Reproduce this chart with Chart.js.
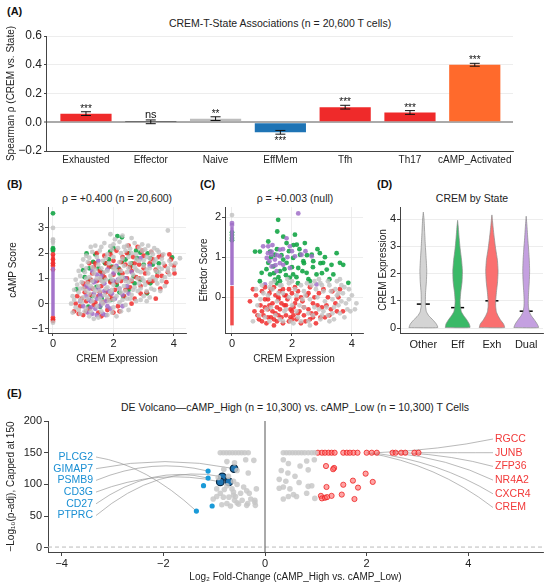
<!DOCTYPE html>
<html><head><meta charset="utf-8">
<script src="https://cdn.jsdelivr.net/npm/chart.js@4.4.1/dist/chart.umd.min.js"></script>
<style>
body{margin:0;background:#fff;width:550px;height:583px;position:relative;overflow:hidden;font-family:"Liberation Sans",Arial,sans-serif;color:#222;}
canvas{position:absolute;}
.lbl{position:absolute;font-weight:bold;font-size:11px;line-height:14px;color:#111;}
.ttl{position:absolute;font-size:10.5px;line-height:14px;color:#222;white-space:nowrap;transform:translateX(-50%);}
</style></head><body>
<div class="lbl" style="left:7px;top:4px">(A)</div>
<div class="lbl" style="left:7px;top:177px">(B)</div>
<div class="lbl" style="left:200px;top:177px">(C)</div>
<div class="lbl" style="left:377px;top:177px">(D)</div>
<div class="lbl" style="left:7px;top:386px">(E)</div>
<div class="ttl" style="left:280px;top:16px">CREM-T-State Associations (n = 20,600 T cells)</div>
<div class="ttl" style="left:117px;top:191px">ρ = +0.400 (n = 20,600)</div>
<div class="ttl" style="left:295px;top:191px">ρ = +0.003 (null)</div>
<div class="ttl" style="left:472px;top:191px">CREM by State</div>
<div class="ttl" style="left:295px;top:400px">DE Volcano—cAMP_High (n = 10,300) vs. cAMP_Low (n = 10,300) T Cells</div>

<canvas id="cA" width="550" height="175" style="left:0;top:0;width:550px;height:175px"></canvas>
<canvas id="cB" width="192" height="195" style="left:0;top:175px;width:192px;height:195px"></canvas>
<canvas id="cC" width="178" height="195" style="left:192px;top:175px;width:178px;height:195px"></canvas>
<canvas id="cD" width="180" height="195" style="left:370px;top:175px;width:180px;height:195px"></canvas>
<canvas id="cE" width="550" height="183" style="left:0;top:400px;width:550px;height:183px"></canvas>
<script>
// ---------------- DATA ----------------
// (A) CREM vs T-state Spearman rho
const stateCategories = ['Exhausted','Effector','Naive','EffMem','Tfh','Th17','cAMP_Activated'];
const stateRho = [0.060, 0.003, 0.025, -0.070, 0.105, 0.068, 0.400];
const stateErr = [0.013, 0.013, 0.013, 0.013, 0.013, 0.013, 0.010];
const stateSig = ['***','ns','**','***','***','***','***'];
const aYTicks = [-0.2, 0.0, 0.2, 0.4, 0.6];

// (B) CREM expression vs cAMP score, by state group
const bGray = [[1.9,2.75],[2.3,2.7],[2.6,2.6],[3.8,2.9],[2.05,2.55],
 [1.4,2.3],[1.7,2.4],[2.0,2.35],[2.2,2.45],[2.45,2.3],[2.7,2.4],[2.95,2.35],[3.15,2.3],[3.35,2.2],
 [1.1,1.9],[1.3,2.05],[1.55,2.1],[1.8,1.95],[1.95,2.15],[2.25,2.0],[2.4,2.1],[2.6,2.0],[2.75,1.95],[2.95,2.1],[3.1,1.85],[3.3,1.95],[3.5,2.05],[3.65,1.95],[4.2,1.8],
 [0.95,1.5],[1.15,1.65],[1.3,1.45],[1.5,1.55],[1.65,1.7],[1.85,1.6],[2.05,1.45],[2.2,1.65],[2.35,1.5],[2.55,1.6],[2.7,1.45],[2.85,1.7],[3.0,1.5],[3.2,1.4],[3.35,1.65],[3.5,1.45],[3.65,1.6],[3.8,1.4],[3.9,1.55],
 [0.9,1.1],[1.05,1.25],[1.2,1.05],[1.35,1.2],[1.55,1.0],[1.7,1.25],[1.9,1.1],[2.1,1.3],[2.3,1.05],[2.45,1.25],[2.65,1.15],[2.8,1.3],[2.95,1.0],[3.15,1.2],[3.3,1.05],[3.5,1.25],[3.7,1.05],[3.85,1.15],
 [0.8,0.75],[1.0,0.6],[1.15,0.8],[1.3,0.9],[1.5,0.7],[1.65,0.85],[1.8,0.65],[2.0,0.75],[2.15,0.9],[2.35,0.7],[2.5,0.85],[2.7,0.65],[2.85,0.8],[3.05,0.75],[3.25,0.6],[3.45,0.8],[3.7,0.7],
 [0.65,0.3],[0.85,0.45],[1.0,0.25],[1.2,0.4],[1.4,0.5],[1.55,0.2],[1.7,0.35],[1.9,0.45],[2.1,0.3],[2.25,0.45],[2.45,0.2],[2.6,0.35],[2.8,0.5],[3.0,0.3],[3.2,0.25],
 [0.6,0.0],[0.75,-0.15],[0.95,0.05],[1.1,-0.2],[1.3,0.1],[1.45,-0.1],[1.65,0.0],[1.85,0.1],[2.0,-0.15],[2.2,0.05],[2.4,-0.05],[2.75,0.1],
 [0.9,-0.4],[1.2,-0.5],[1.5,-0.55],[1.8,-0.45],[2.1,-0.5],[1.35,-0.6],
 [1.25,2.25],[1.6,2.25],[1.9,2.28],[2.15,2.2],[2.35,2.25],[2.55,2.18],[2.85,2.22],[3.05,2.15],[3.25,2.05],[3.45,2.12],
 [1.0,1.75],[1.2,1.82],[1.45,1.85],[1.75,1.8],[2.0,1.85],[2.3,1.78],[2.5,1.85],[2.75,1.75],[3.0,1.72],[3.2,1.8],[3.4,1.75],[3.6,1.78],[3.85,1.7],[4.05,1.6],
 [0.85,1.3],[1.1,1.4],[1.4,1.35],[1.6,1.4],[1.8,1.3],[2.0,1.38],[2.25,1.3],[2.5,1.4],[2.75,1.35],[2.9,1.25],[3.1,1.35],[3.4,1.3],[3.6,1.38],[3.8,1.3],[4.0,1.35],
 [0.75,0.95],[0.95,0.85],[1.1,1.0],[1.25,0.7],[1.45,1.0],[1.6,0.9],[1.75,0.95],[1.95,0.95],[2.2,1.0],[2.4,0.9],[2.6,0.95],[2.8,1.0],[3.0,0.9],[3.2,0.95],[3.4,0.95],[3.6,0.9],
 [0.7,0.55],[0.9,0.6],[1.1,0.5],[1.35,0.6],[1.55,0.5],[1.75,0.6],[1.95,0.55],[2.2,0.6],[2.4,0.5],[2.65,0.55],[2.9,0.6],[3.1,0.5],[3.35,0.55],[3.55,0.5],
 [0.7,0.15],[0.9,0.15],[1.15,0.2],[1.35,0.3],[1.6,0.1],[1.8,0.25],[2.0,0.15],[2.3,0.15],[2.55,0.2],[2.9,0.15],[3.1,0.1],
 [0.85,-0.25],[1.05,-0.3],[1.25,-0.3],[1.6,-0.3],[1.95,-0.35],[2.25,-0.3],[2.5,-0.25],[0.65,-0.35],
 [0,3.0],[0,2.55],[0,2.45],[0,-0.75]];
const bPurple = [[1.0,-0.1],[1.1,0.3],[1.15,-0.35],[1.2,0.6],[1.25,0.1],[1.3,-0.4],[1.35,0.4],[1.4,0.9],[1.4,-0.2],[1.45,0.2],[1.5,0.6],[1.55,-0.1],[1.6,1.1],[1.6,0.3],[1.65,-0.4],[1.7,0.8],[1.75,0.1],[1.8,1.35],[1.85,0.5],[1.9,-0.2],[2.0,0.9],[2.05,0.2],[2.1,1.5],[2.2,0.6],[2.3,-0.1],[2.4,1.0],[2.5,0.4],[2.6,1.25],[0.9,0.1],[1.3,1.3],[2.9,1.8],[3.2,1.5],[1.5,1.7],[1.75,-0.45],
 [1.1,0.7],[1.25,-0.15],[1.35,0.85],[1.45,-0.45],[1.55,0.35],[1.7,0.5],[1.8,-0.1],[1.95,0.4],[2.15,0.95],[2.3,0.35],[1.2,0.15],[1.6,0.0],[2.0,1.2],[1.45,1.15],[2.45,0.7]];
const bRed = [[0.7,-0.3],[0.75,0.0],[0.9,-0.1],[0.95,0.2],[1.0,-0.45],[1.05,0.45],[1.1,0.1],[1.15,0.85],[1.2,-0.2],[1.25,0.35],[1.3,1.2],[1.3,0.6],[1.35,-0.05],[1.4,1.6],[1.45,0.9],[1.5,0.3],[1.5,-0.35],[1.55,1.3],[1.6,0.7],[1.65,0.05],[1.7,1.9],[1.7,1.05],[1.75,0.45],[1.8,-0.25],[1.85,1.45],[1.9,0.85],[1.95,0.2],[2.0,1.7],[2.0,1.15],[2.05,0.55],[2.1,2.1],[2.15,-0.1],[2.2,1.35],[2.25,0.9],[2.3,1.85],[2.35,0.3],[2.4,1.55],[2.45,1.0],[2.5,2.3],[2.55,0.65],[2.6,1.3],[2.65,1.85],[2.7,0.2],[2.75,1.05],[2.8,2.25],[2.85,1.55],[2.9,0.7],[3.0,1.9],[3.05,1.2],[3.1,0.45],[3.2,1.6],[3.25,2.05],[3.3,0.9],[3.4,1.35],[3.5,1.85],[3.55,0.6],[3.6,1.1],[3.7,1.5],[3.8,1.25],[3.9,1.75],[4.02,1.2],[4.0,1.5],[3.4,0.2],[1.2,1.6],[2.0,-0.35],[0.8,0.3],[1.45,2.0],[2.6,0.0],
 [0.85,-0.4],[1.05,0.65],[1.25,0.95],[1.4,0.05],[1.55,0.95],[1.6,-0.5],[1.75,1.6],[1.9,0.35],[2.0,1.45],[2.1,0.85],[2.25,1.65],[2.4,0.55],[2.45,2.0],[2.6,0.9],[2.7,1.6],[2.85,1.0],[2.95,2.1],[3.0,1.4],[3.15,0.85],[3.3,1.75],[3.45,1.1],[3.6,1.9],[3.75,0.85],[1.1,-0.3],[1.35,1.45],[1.9,1.95],[2.3,1.2],[1.55,0.45],[2.2,-0.3],[2.9,0.4],[1.65,1.2],[1.0,0.8],[3.85,1.95],[2.55,1.45],[1.8,0.15],
 [0,1.95],[0,1.75],[0,1.6],[0,1.5],[0,1.35],[0,-0.55],[0,-0.62],[0,-0.68]];
const bGreen = [[2.13,2.68],[2.28,2.63],[1.11,1.99],[1.89,2.06],[2.5,1.99],[2.89,2.02],[3.13,1.99],[3.94,1.83],[1.33,1.66],[1.72,1.6],[2.28,1.66],[2.78,1.8],[3.22,1.8],[1.0,1.33],[1.5,1.4],[1.94,1.47],[2.17,1.4],[2.56,1.47],[1.22,0.94],[1.67,1.0],[2.39,1.0],[2.67,1.07],[2.89,0.94],[0.78,0.57],[1.44,0.67],[2.11,0.74],[2.5,0.54],[3.22,0.81],[1.61,0.21],[1.94,0.15],[1.17,-0.12],[1.56,-0.12],[2.33,0.28],[3.11,0.41],[3.44,1.27],
 [1.2,1.4],[1.4,1.95],[1.6,1.25],[1.85,1.75],[2.0,2.2],[2.2,1.2],[2.4,1.75],[2.6,1.6],[2.75,2.1],[3.0,1.55],[3.3,1.55],[1.9,0.9],[2.2,0.45],[1.3,0.3],[2.7,0.8],[3.5,1.6],[1.05,1.05],
 [0,3.58],[0,2.2],[0,2.15],[0,2.1]];
const bZeroPurple = [-0.48, 1.45];   // CREM = 0 stripe ranges
const bZeroRed = [1.5, 1.95];
const bZeroGray = [2.3, 2.6];

// (C) CREM expression vs effector score
const cGray = [[0.7,-0.6],[0.85,-0.2],[1.0,0.3],[1.1,-0.5],[1.2,0.05],[1.3,-0.25],[1.4,0.4],[1.5,-0.1],[1.6,-0.55],[1.7,0.1],[1.8,-0.3],[1.9,0.35],[2.0,-0.2],[2.1,0.2],[2.2,-0.5],[2.3,0.3],[2.4,-0.25],[2.5,0.35],[2.6,-0.05],[2.7,-0.45],[2.8,0.2],[2.9,-0.3],[3.0,0.3],[3.1,-0.1],[3.2,-0.45],[3.3,0.15],[3.4,-0.25],[3.5,0.05],[3.6,-0.4],[3.7,0.1],[3.8,-0.15],[3.95,-0.35],[4.1,-0.3],[3.55,-0.2],[3.25,-0.6],[2.95,-0.55],[1.35,0.2],[1.65,0.3],[2.45,0.05],[2.75,0.4],[3.05,-0.35],[3.35,-0.05],[3.65,0.3],[0.95,-0.05],[1.25,-0.6],[2.05,-0.65],[2.35,-0.05],[1.85,0.45],[3.9,0.2],[3.5,0.4],[2.15,-0.35],[2.55,-0.6],[3.75,-0.5],[1.55,0.1],
 [0.8,0.2],[1.05,0.1],[1.15,-0.3],[1.3,0.35],[1.45,-0.45],[1.6,0.3],[1.75,-0.35],[1.9,0.0],[2.0,0.4],[2.15,0.05],[2.25,-0.2],[2.4,0.15],[2.55,-0.4],[2.65,0.3],[2.75,-0.25],[2.85,0.0],[2.95,0.35],[3.05,0.15],[3.15,-0.25],[3.25,0.3],[3.35,-0.4],[3.45,0.2],[3.55,0.1],[3.65,-0.1],[3.75,0.25],[3.85,-0.3],[4.0,0.05],[4.15,-0.15],[3.4,-0.55],[3.0,-0.45],[2.6,-0.7],[2.3,-0.6],[1.95,-0.6],[1.7,-0.6],[2.9,0.45],[3.6,0.45],[3.2,0.4],[1.25,0.25],[0.9,-0.45],[3.9,-0.05],
 [0,2.05]];
const cRed = [[0.6,-0.1],[0.75,-0.35],[0.8,0.05],[0.9,-0.55],[0.95,-0.2],[1.0,0.15],[1.05,-0.45],[1.1,-0.05],[1.15,-0.65],[1.2,-0.3],[1.25,0.1],[1.3,-0.5],[1.35,-0.15],[1.4,0.25],[1.45,-0.4],[1.5,-0.6],[1.55,0.0],[1.6,-0.3],[1.65,-0.5],[1.7,0.2],[1.75,-0.2],[1.8,-0.45],[1.85,-0.05],[1.9,-0.6],[1.95,-0.3],[2.0,0.1],[2.05,-0.45],[2.1,-0.15],[2.15,-0.55],[2.2,0.15],[2.25,-0.35],[2.3,-0.65],[2.35,-0.1],[2.4,-0.45],[2.5,0.05],[2.55,-0.3],[2.6,-0.55],[2.7,-0.15],[2.8,-0.4],[2.9,0.1],[3.0,-0.25],[3.1,-0.5],[3.2,0.0],[3.3,-0.3],[3.45,-0.15],[3.6,0.2],[3.7,-0.35],[1.2,-0.05],[1.5,-0.25],[1.8,0.05],[2.0,-0.55],[2.6,0.25],[1.0,-0.35],[1.4,-0.7],[2.8,-0.65],
 [0.7,0.2],[0.85,-0.45],[1.0,-0.6],[1.1,0.25],[1.2,-0.5],[1.3,0.2],[1.35,-0.35],[1.45,0.05],[1.55,-0.45],[1.6,0.15],[1.65,-0.15],[1.7,-0.65],[1.8,-0.2],[1.9,0.2],[1.95,-0.5],[2.05,-0.25],[2.1,0.25],[2.2,-0.4],[2.3,0.0],[2.4,-0.25],[2.45,-0.6],[2.55,0.1],[2.65,-0.4],[2.75,0.0],[2.85,-0.2],[2.95,-0.5],[3.05,0.2],[3.15,-0.2],[3.25,-0.45],[3.35,0.15],[3.5,-0.35],[3.55,0.0],[1.25,-0.2],[1.55,-0.05],[2.15,-0.05],[2.0,-0.35],[1.75,0.05],[1.4,-0.55],[1.1,-0.25],[2.7,-0.5]];
const cPurple = [[2.21,2.09],[1.04,1.27],[1.21,1.27],[1.32,1.06],[1.43,0.94],[1.6,1.02],[1.82,1.47],[1.93,1.27],[2.1,1.02],[2.32,1.06],[2.66,1.02],[1.32,0.77],[1.49,0.65],[1.93,0.73],[1.1,0.32],[2.82,0.32],[1.6,1.19],[1.32,1.14],[1.71,0.81],[1.16,0.98],
 [1.2,1.1],[1.35,1.3],[1.5,1.05],[1.45,0.8],[1.7,1.2],[1.85,1.0],[1.25,0.9],[2.0,1.15],[1.6,0.85],[2.45,1.15],
 [0,1.85],[0,1.8]];
const cGreen = [[1.54,1.93],[1.51,1.64],[2.1,1.56],[0.77,1.14],[0.93,1.14],[1.27,1.14],[1.82,1.35],[2.16,1.31],[2.43,1.35],[2.66,1.06],[2.93,1.1],[3.49,1.1],[3.6,0.86],[3.71,0.81],[3.88,0.36],[0.99,0.61],[1.27,0.57],[1.6,0.65],[1.93,0.49],[2.21,0.73],[2.49,0.61],[2.82,0.57],[3.16,0.69],[3.32,0.81],[1.21,0.86],[1.71,0.94],[2.04,0.98],[2.38,0.9],[2.71,0.9],[1.43,0.44],[1.6,0.4],[0.93,0.4],[1.82,0.86],[1.43,1.06],[3.04,0.86],[3.38,0.57],[2.6,0.4],[1.21,1.39],[1.71,1.51],[2.27,1.06],[2.04,0.57],[1.38,0.77],
 [1.3,1.0],[1.4,0.6],[1.5,1.2],[1.55,0.5],[1.65,1.05],[1.75,0.7],[1.9,1.15],[2.0,0.75],[2.15,0.5],[2.25,1.2],[2.35,0.65],[2.5,1.05],[2.55,0.45],[2.7,0.75],[2.85,1.2],[3.0,0.6],[3.1,1.0],[3.25,0.45],[2.05,1.3],[1.8,0.55],[2.4,0.85],[1.15,0.7],[2.95,0.85],[1.5,0.35],[2.2,0.35],
 [0,1.62],[0,1.55],[0,1.48],[0,1.42]];
const cZeroPurple = [0.3, 1.75];
const cZeroRed = [-0.7, 0.28];

// (D) CREM expression violins (density half-widths, in category units)
const dStates = ['Other','Eff','Exh','Dual'];
const dMeans = [0.88, 0.75, 1.00, 0.62];
const dOtherY  = [0.02,0.15,0.3,0.45,0.6,0.8,1.0,1.3,1.7,2.1,2.5,3.0,3.5,4.0,4.25];
const dOtherW  = [0.42,0.38,0.28,0.16,0.09,0.065,0.06,0.065,0.09,0.1,0.085,0.06,0.04,0.02,0];
const dEffY    = [0.02,0.15,0.3,0.45,0.6,0.8,1.0,1.3,1.7,2.1,2.5,2.9,3.3,3.7,3.95];
const dEffW    = [0.36,0.34,0.27,0.18,0.11,0.08,0.072,0.09,0.13,0.14,0.115,0.075,0.045,0.02,0];
const dExhY    = [0.02,0.15,0.3,0.45,0.6,0.8,1.0,1.3,1.7,2.1,2.5,2.9,3.3,3.7,4.0,4.15];
const dExhW    = [0.37,0.34,0.25,0.18,0.13,0.11,0.11,0.13,0.165,0.18,0.16,0.11,0.07,0.035,0.012,0];
const dDualY   = [0.02,0.15,0.3,0.45,0.6,0.8,1.0,1.3,1.7,2.1,2.5,2.9,3.3,3.7,4.1];
const dDualW   = [0.36,0.32,0.24,0.15,0.09,0.065,0.06,0.07,0.09,0.1,0.09,0.07,0.045,0.025,0];

// (E) Volcano: log2FC and -log10(p-adj) capped at 150
const eGray = [[-0.88,150],[-0.82,150],[-0.76,150],[-0.7,150],[-0.64,150],[-0.58,150],[-0.52,150],[-0.46,150],[-0.4,150],[-0.33,150],
 [-0.75,136],[-0.6,134],[-0.38,139],[-0.22,138],[-0.81,124],[-0.55,122],[-0.72,113],[-0.33,118],[-0.62,105],[-0.75,98],[-0.55,100],[-0.65,93],[-0.95,93],[-0.88,86],[-0.62,88],[-0.36,90],[-0.17,93],[-1.02,77],[-0.82,80],[-0.71,80],[-0.58,81],[-0.45,75],[-0.28,77],[-0.75,70],[-0.55,71],[-0.34,70],[-0.2,75],[-0.62,83],[-0.31,86],[-0.42,96],[-0.92,111],[-0.2,72],[-0.36,67],[-0.19,67],[-0.95,81],[-0.6,75],[-0.52,69],[-0.68,66],[-0.85,68],[-0.48,86],[-0.8,92],
 [0.36,150],[0.42,150],[0.48,150],[0.54,150],[0.6,150],[0.66,150],[0.72,150],[0.78,150],[0.85,150],[0.92,150],[0.98,150],
 [0.36,139],[0.46,133],[0.32,122],[0.45,118],[0.59,113],[0.28,108],[0.41,105],[0.67,103],[0.82,137],[0.97,139],[0.69,129],[0.85,123],[0.28,94],[0.36,96],[0.49,93],[0.85,97],[0.92,98],[0.82,86],[0.56,84],[0.62,81],[0.46,81],[0.36,77],[0.98,78]];
const eRed = [[1.04,150],[1.12,150],[1.18,150],[1.25,150],[1.31,150],[1.37,150],[1.54,150],[1.61,150],[1.67,150],[1.74,150],[1.82,150],[2.0,150],[2.1,150],[2.2,150],[2.51,150],[2.57,150],[2.68,150],[2.76,150],[2.94,150],[3.02,150],
 [1.2,129],[1.36,126],[1.34,124],[1.98,117],[1.73,106],[2.12,104],[1.54,99.5],[1.21,96],[1.83,95],[1.1,82],[1.31,82],[1.51,84],[1.12,78],[1.18,79],[1.22,80],[1.76,77]];
const eBlueSmall = [[-1.12,121],[-1.12,110],[-1.21,98],[-1.04,66],[-1.35,58]];
const eBlueLarge = [[-0.61,125],[-0.84,112],[-0.88,104],[-0.71,104]];
const eDownGenes = ['PLCG2','GIMAP7','PSMB9','CD3G','CD27','PTPRC'];
const eDownTargets = [[-1.35,58],[-0.61,125],[-1.12,121],[-0.88,104],[-1.12,110],[-0.84,112]];
const eUpGenes = ['RGCC','JUNB','ZFP36','NR4A2','CXCR4','CREM'];
const eUpTargets = [[2.2,150],[3.02,150],[2.76,150],[2.51,150],[2.1,150],[2.0,150]];
const eSigLine = 1.3;   // -log10(0.05)

// ---------------- HELPERS ----------------
const FONT = '"Liberation Sans", Arial, sans-serif';
Chart.defaults.font.family = FONT;
Chart.defaults.color = '#222';
const fmtNum = v => (v < 0 ? '\u2212' : '') + Math.abs(v);
const pts = a => a.map(([x, y]) => ({x, y}));

function linAxis(o) {
  return {
    type: 'linear', min: o.min, max: o.max, offset: false,
    afterBuildTicks: s => { s.ticks = o.ticks.map(v => ({value: v})); },
    afterFit: o.fit,
    ticks: {callback: o.fmt || fmtNum, font: {size: o.fs || 10}, padding: o.tp ?? 1, autoSkip: false, maxRotation: 0, color: '#222'},
    grid: {display: true, drawOnChartArea: o.grid !== false, color: o.gridColor || '#e8e8e8', lineWidth: o.gridWidth || 0.8,
           drawTicks: o.dt !== false, tickLength: o.tl ?? 3, tickColor: '#444', tickWidth: 1},
    border: {display: true, color: '#444', width: 1},
    title: o.title ? {display: true, text: o.title, font: {size: o.tfs || 10}, padding: {top: o.tpad || 0, bottom: 0}, color: '#222'} : {display: false}
  };
}
function mk(id, type, datasets, x, y, pad, plugins) {
  return new Chart(document.getElementById(id), {
    type, data: {datasets},
    options: {responsive: false, animation: false, events: [], layout: {padding: pad},
      plugins: {legend: {display: false}, tooltip: {enabled: false}}, scales: {x, y}},
    plugins: plugins || []
  });
}
function dots(arr, color, r, extra) {
  return Object.assign({type: 'scatter', data: pts(arr), backgroundColor: color, borderWidth: 0, pointRadius: r, pointHoverRadius: r}, extra || {});
}
function seg(x, range, color, w, extra) {
  return Object.assign({type: 'scatter', data: [{x, y: range[0]}, {x, y: range[1]}], showLine: true, borderColor: color,
    borderWidth: w, pointRadius: 0, fill: false}, extra || {});
}

const RED = 'rgba(240,45,45,0.85)', GREEN = 'rgba(20,165,70,0.9)', PURPLE = 'rgba(160,110,200,0.85)', GRAY = 'rgba(192,192,192,0.8)';
const R = 2.4;

// ---------------- (A) ----------------
const barColors = ['#ef2a2a', '#333333', '#bdbdbd', '#1f74b5', '#ef2a2a', '#ef2a2a', '#ff6a2c'];
const errPlugin = {id: 'err', afterDatasetsDraw(chart) {
  const {ctx, scales: {x, y}} = chart;
  ctx.save(); ctx.strokeStyle = '#111'; ctx.lineWidth = 1; ctx.fillStyle = '#111'; ctx.textAlign = 'center';
  stateRho.forEach((v, i) => {
    const px = x.getPixelForValue(i), lo = y.getPixelForValue(v - stateErr[i]), hi = y.getPixelForValue(v + stateErr[i]);
    ctx.beginPath();
    ctx.moveTo(px, lo); ctx.lineTo(px, hi);
    ctx.moveTo(px - 5, lo); ctx.lineTo(px + 5, lo);
    ctx.moveTo(px - 5, hi); ctx.lineTo(px + 5, hi);
    ctx.stroke();
    const s = stateSig[i];
    ctx.font = (s === 'ns' ? '11px ' : '10px ') + FONT;
    if (v >= 0) { ctx.textBaseline = 'alphabetic'; ctx.fillText(s, px, hi - (s === 'ns' ? 2 : 0)); }
    else { ctx.textBaseline = 'top'; ctx.fillText(s, px, lo + 2); }
  });
  ctx.restore();
}};
mk('cA', 'bar',
  [{type: 'bar', data: stateRho.map((v, i) => ({x: i, y: v})), backgroundColor: barColors, borderWidth: 0, barPercentage: 0.79, categoryPercentage: 1}],
  linAxis({min: -0.617, max: 6.59, ticks: stateCategories.map((_, i) => i), fmt: v => stateCategories[v], fs: 10, tp: 3, grid: false, dt: false, fit: s => { s.height = 20; }}),
  linAxis({min: -0.2, max: 0.6, ticks: aYTicks, fmt: v => (v < 0 ? '\u2212' : '') + Math.abs(v).toFixed(1), fs: 12, tp: 2, tl: 2,
    gridColor: c => (c.tick && c.tick.value === 0 ? '#aaaaaa' : '#e8e8e8'), gridWidth: c => (c.tick && c.tick.value === 0 ? 2 : 0.8),
    title: 'Spearman ρ (CREM vs. State)', tpad: 5, fit: s => { s.width = 46; }}),
  {left: 0, right: 37, top: 36, bottom: 4}, [errPlugin]);

// ---------------- (B) ----------------
mk('cB', 'scatter', [
  seg(0, bZeroGray, GRAY, 3.5), seg(0, bZeroPurple, 'rgba(160,110,200,0.95)', 3.5), seg(0, bZeroRed, RED, 3.5),
  dots(bGray, GRAY, R), dots(bPurple, PURPLE, R), dots(bRed, RED, R), dots(bGreen, GREEN, R)
],
  linAxis({min: -0.165, max: 4.4, ticks: [0, 2, 4], title: 'CREM Expression', fs: 11, tpad: 2, fit: s => { s.height = 32; }}),
  linAxis({min: -1.16, max: 3.83, ticks: [-1, 0, 1, 2, 3], title: 'cAMP Score', fs: 11, tpad: 7, fit: s => { s.width = 48; }}),
  {left: 0, right: 6, top: 32, bottom: 5});

// ---------------- (C) ----------------
mk('cC', 'scatter', [
  seg(0, cZeroRed, RED, 3.5), seg(0, cZeroPurple, 'rgba(160,110,200,0.95)', 3.5),
  dots(cGray, GRAY, R), dots(cRed, RED, R), dots(cPurple, PURPLE, R), dots(cGreen, GREEN, R)
],
  linAxis({min: -0.233, max: 4.37, ticks: [0, 2, 4], title: 'CREM Expression', fs: 11, tpad: 2, fit: s => { s.height = 32; }}),
  linAxis({min: -0.89, max: 2.25, ticks: [0, 1, 2], title: 'Effector Score', fs: 11, tpad: 6, fit: s => { s.width = 33; }}),
  {left: 0, right: 7, top: 32, bottom: 5});

// ---------------- (D) ----------------
function violin(c, ys, hw, fillC, lineC) {
  const right = ys.map((y, i) => ({x: c + hw[i], y}));
  const left = ys.map((y, i) => ({x: c - hw[i], y})).reverse();
  return {type: 'scatter', data: [{x: c - hw[0], y: ys[0]}, ...right, ...left], showLine: true, fill: 'shape',
    backgroundColor: fillC, borderColor: lineC, borderWidth: 0.7, pointRadius: 0, tension: 0.15};
}
const violinSets = [[dOtherY, dOtherW], [dEffY, dEffW], [dExhY, dExhW], [dDualY, dDualW]];
const violinFill = ['rgba(212,212,212,1)', 'rgba(58,185,103,1)', 'rgba(250,112,112,1)', 'rgba(196,160,224,1)'];
const dDatasets = violinSets.map(([ys, w], i) => violin(i, ys, w, violinFill[i], '#8a8a8a'));
dMeans.forEach((m, i) => dDatasets.push(seg(null, [m, m], '#000', 1.5, {data: [{x: i - 0.19, y: m}, {x: i + 0.19, y: m}]})));
mk('cD', 'scatter', dDatasets,
  linAxis({min: -0.68, max: 3.49, ticks: [0, 1, 2, 3], fmt: v => dStates[v], fs: 11, grid: false, dt: false, tp: 5, fit: s => { s.height = 32; }}),
  linAxis({min: -0.18, max: 4.44, ticks: [0, 1, 2, 3, 4], title: 'CREM Expression', fs: 11, tpad: 7, fit: s => { s.width = 30; }}),
  {left: 0, right: 7, top: 32, bottom: 5});

// ---------------- (E) ----------------
const eXmin = -4.27, eXmax = 5.47, eYmin = -6.5, eYmax = 200;
const eLabelPlugin = {id: 'elab',
  beforeDatasetsDraw(chart) {
    const {ctx, scales: {x, y}, chartArea: a} = chart;
    ctx.save(); ctx.strokeStyle = 'rgba(150,150,150,0.75)'; ctx.lineWidth = 0.9;
    eDownGenes.forEach((g, i) => {
      const lx = a.left + 48, ly = a.top + 36 + i * 11.7;
      const tx = x.getPixelForValue(eDownTargets[i][0]), ty = y.getPixelForValue(eDownTargets[i][1]);
      ctx.beginPath(); ctx.moveTo(lx, ly);
      ctx.quadraticCurveTo(lx + 0.5 * (tx - lx), Math.min(ly, ty) - (i === 0 ? -8 : 14), tx, ty); ctx.stroke();
    });
    eUpGenes.forEach((g, i) => {
      const lx = a.right - 50, ly = a.top + 18 + i * 13.7;
      const tx = x.getPixelForValue(eUpTargets[i][0]), ty = y.getPixelForValue(eUpTargets[i][1]);
      ctx.beginPath(); ctx.moveTo(tx, ty);
      ctx.quadraticCurveTo(tx + 0.55 * (lx - tx), ty + 0.2 * (ly - ty), lx, ly); ctx.stroke();
    });
    ctx.restore();
  },
  afterDatasetsDraw(chart) {
    const {ctx, chartArea: a} = chart;
    ctx.save(); ctx.font = '10.5px ' + FONT; ctx.textBaseline = 'middle';
    ctx.fillStyle = '#1a8fd3'; ctx.textAlign = 'right';
    eDownGenes.forEach((g, i) => ctx.fillText(g, a.left + 45, a.top + 36 + i * 11.7));
    ctx.fillStyle = '#f23a3a'; ctx.textAlign = 'left';
    eUpGenes.forEach((g, i) => ctx.fillText(g, a.right - 48, a.top + 18 + i * 13.7));
    ctx.restore();
  }};
mk('cE', 'scatter', [
  seg(0, [eYmin, eYmax], '#555', 1),
  {type: 'scatter', data: [{x: eXmin, y: eSigLine}, {x: eXmax, y: eSigLine}], showLine: true, borderColor: '#bbb', borderWidth: 1, borderDash: [4, 3], pointRadius: 0},
  dots(eGray, 'rgba(200,200,200,0.85)', 2.8),
  dots(eRed, 'rgba(255,90,90,0.55)', 2.6, {borderColor: 'rgba(235,30,30,0.85)', borderWidth: 0.9}),
  dots(eBlueSmall, '#1a9ad8', 2.6),
  dots(eBlueLarge, '#1f73b0', 3.8, {borderColor: '#0b2a44', borderWidth: 1.2})
],
  linAxis({min: eXmin, max: eXmax, ticks: [-4, -2, 0, 2, 4], title: 'Log\u2082 Fold-Change (cAMP_High vs. cAMP_Low)', fs: 11, grid: false, tl: 4, tp: 1, tpad: 2, fit: s => { s.height = 31; }}),
  linAxis({min: eYmin, max: eYmax, ticks: [0, 50, 100, 150, 200], title: '\u2212Log\u2081\u2080(p-adj), Capped at 150', fs: 11, grid: false, tl: 4, tp: 2, tpad: 5, fit: s => { s.width = 48; }}),
  {left: 0, right: 7, top: 21, bottom: 0}, [eLabelPlugin]);
</script>
</body></html>
